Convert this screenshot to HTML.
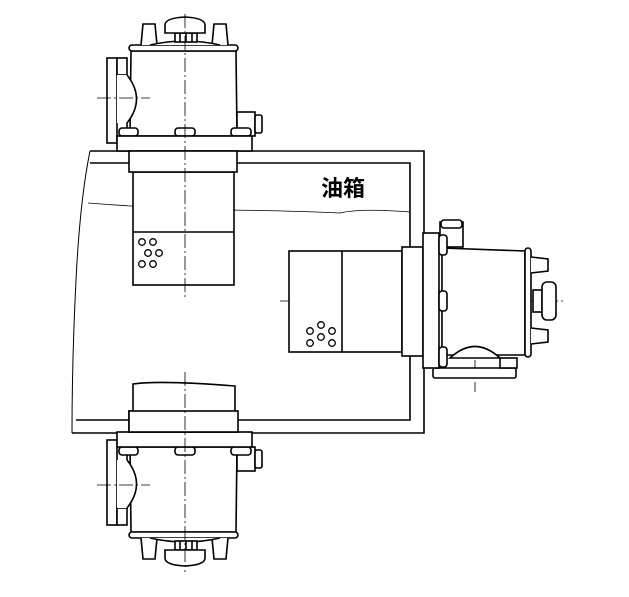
<!DOCTYPE html>
<html><head><meta charset="utf-8"><style>
html,body{margin:0;padding:0;background:#fff;}
svg{display:block;}
</style></head><body>
<svg width="629" height="597" viewBox="0 0 629 597" xmlns="http://www.w3.org/2000/svg">
<defs>
<g id="head" fill="#fff" stroke="#000" stroke-width="1.6">
  <!-- body -->
  <path d="M131 51 L130 136 L237 136 L236 51 Z"/>
  <!-- side plate -->
  <rect x="107" y="58" width="10" height="85"/>
  <rect x="117" y="58" width="10" height="17"/>
  <path d="M117 75 L127 75 Q146 99 127 123 L117 123 Z" stroke="none"/>
  <path d="M127 75 Q146 99 127 123" fill="none"/>
  <line x1="127" y1="123" x2="127" y2="128"/>
  <rect x="129" y="45" width="109" height="6" rx="3"/>
  <!-- tabs -->
  <path d="M141 45 L143 24 L155 24 L157 45"/>
  <path d="M212 45 L214 24 L226 24 L228 45"/>
  <path d="M150 45 Q185 37 220 45"/>
  <!-- knob -->
  <rect x="175" y="33" width="22" height="9"/>
  <line x1="180" y1="33" x2="180" y2="42"/><line x1="186" y1="33" x2="186" y2="42"/><line x1="192" y1="33" x2="192" y2="42"/>
  <path d="M165 33 L165 25 Q165 18 185 17 Q205 18 205 25 L205 33 Z"/>
  <!-- side box & nut -->
  <rect x="237" y="112" width="18" height="24"/>
  <rect x="255" y="115" width="7" height="18" rx="2"/>
  <!-- bolts -->
  <rect x="119" y="128" width="19" height="8" rx="3"/>
  <rect x="175" y="128" width="20" height="8" rx="3"/>
  <rect x="231" y="128" width="20" height="8" rx="3"/>
  <!-- flange -->
  <rect x="117" y="136" width="135" height="15"/>
  <!-- collar -->
  <rect x="129" y="151" width="108" height="21"/>
</g>
</defs>
<!-- tank -->
<g fill="none" stroke="#000" stroke-width="1.6">
  <path d="M90 151 L129 151 M237 151 L424 151 L424 433 L252 433 M117 433 L72 433"/>
  <path d="M90 163 L129 163 M237 163 L410 163 L410 420 L238 420 M129 420 L76 420"/>
  <path d="M90 151 Q80 200 76 280 Q72 360 72 433" stroke-width="1"/>
  <path d="M88 203 Q150 208 230 210 Q300 211 340 213 Q360 208 410 212" stroke-width="0.8"/>
</g>
<rect x="133" y="172" width="101" height="113" fill="#fff" stroke="#000" stroke-width="1.6"/>
<line x1="133" y1="232" x2="234" y2="232" stroke="#000" stroke-width="1.6"/>
<g fill="none" stroke="#000" stroke-width="1.3">
<circle cx="142" cy="242" r="3.3"/><circle cx="153" cy="242" r="3.3"/><circle cx="148" cy="253" r="3.3"/><circle cx="159" cy="253" r="3.3"/><circle cx="142" cy="264" r="3.3"/><circle cx="153" cy="264" r="3.3"/>
</g>
<use href="#head"/>
<g transform="translate(0,583) scale(1,-1)"><use href="#head"/></g>
<!-- bottom inner body -->
<path d="M133 411 L133 384 Q160 380 235 386 L235 411" fill="#fff" stroke="#000" stroke-width="1.6"/>
<rect x="129" y="411" width="109" height="21" fill="#fff" stroke="#000" stroke-width="1.6"/>
<!-- centerlines -->
<g stroke="#000" stroke-width="0.8" stroke-dasharray="14 3 2 3" fill="none">
  <line x1="185" y1="14" x2="185" y2="298"/>
  <line x1="185" y1="372" x2="185" y2="572"/>
  <line x1="97" y1="98" x2="150" y2="98"/>
  <line x1="97" y1="485" x2="150" y2="485"/>
  <line x1="280" y1="301" x2="566" y2="301"/>
  <line x1="475" y1="338" x2="475" y2="392"/>
</g>
<!-- right pump -->
<g fill="#fff" stroke="#000" stroke-width="1.6">
  <rect x="289" y="251" width="113" height="101"/>
  <line x1="342" y1="251" x2="342" y2="352"/>
  <rect x="402" y="247" width="21" height="109"/>
  <rect x="433" y="368" width="83" height="10" rx="2"/>
  <rect x="500" y="358" width="17" height="10"/>
  <path d="M442 248 L525 251 L525 355 L442 355 Z"/>
  <path d="M450 358 Q475 335 500 358 Z"/>
  <rect x="423" y="233" width="16" height="135"/>
  <rect x="440" y="222" width="23" height="25"/>
  <rect x="441" y="220" width="21" height="8" rx="3"/>
  <rect x="439" y="235" width="8" height="20" rx="3"/>
  <rect x="439" y="291" width="8" height="20" rx="3"/>
  <rect x="439" y="347" width="8" height="20" rx="3"/>
  <rect x="525" y="248" width="6" height="109" rx="3"/>
  <path d="M531 257 L548 259 L548 271 L531 273"/>
  <path d="M531 328 L548 330 L548 342 L531 344"/>
  <rect x="533" y="290" width="9" height="22"/>
  <rect x="542" y="282" width="14" height="38" rx="5"/>
</g>
<g fill="none" stroke="#000" stroke-width="1.3">
<circle cx="310" cy="331" r="3.3"/><circle cx="321" cy="325" r="3.3"/><circle cx="332" cy="331" r="3.3"/><circle cx="310" cy="343" r="3.3"/><circle cx="321" cy="337" r="3.3"/><circle cx="332" cy="343" r="3.3"/>
</g>
<text x="321" y="196" font-family="'Liberation Sans','Noto Sans CJK SC',sans-serif" font-size="22" font-weight="bold">油箱</text>
</svg>
</body></html>
